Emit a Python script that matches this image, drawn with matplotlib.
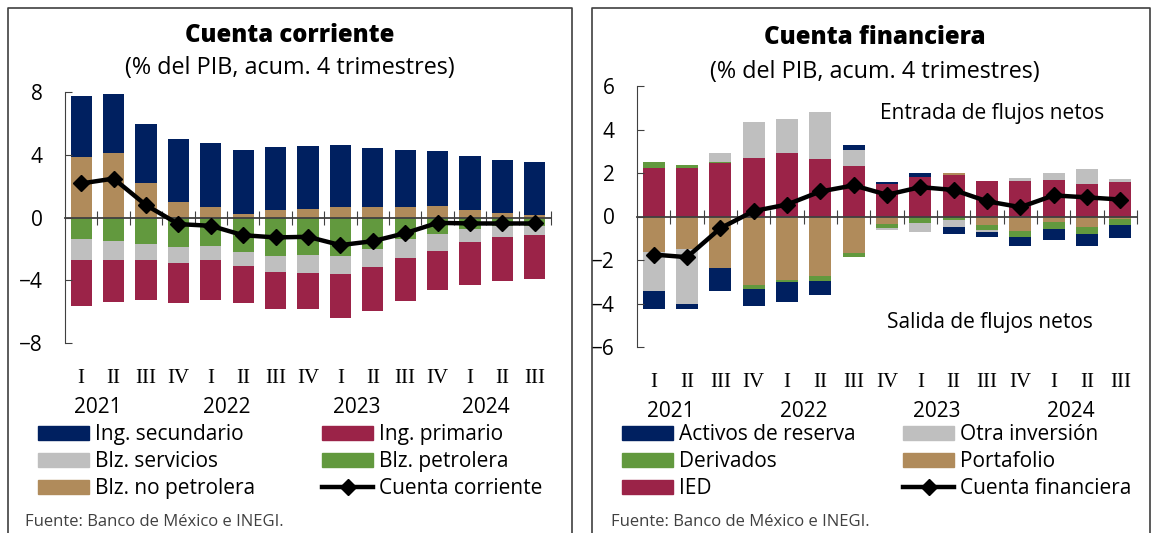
import numpy as np
import matplotlib
matplotlib.use("Agg")
from matplotlib import pyplot as plt
from matplotlib.patches import Patch
from matplotlib.lines import Line2D

plt.rcParams['font.family'] = ['Open Sans', 'DejaVu Sans']

# datos
trimestres = ['I', 'II', 'III', 'IV', 'I', 'II', 'III', 'IV', 'I', 'II', 'III', 'IV', 'I', 'II', 'III']
anios = ['2021', '2022', '2023', '2024']

# Cuenta corriente (% del PIB)
ing_secundario = [3.89, 3.78, 3.80, 4.03, 4.07, 4.08, 4.07, 4.01, 3.93, 3.80, 3.63, 3.51, 3.40, 3.37, 3.37]
ing_primario = [-2.89, -2.73, -2.55, -2.57, -2.57, -2.40, -2.34, -2.30, -2.82, -2.78, -2.71, -2.46, -2.75, -2.81, -2.83]
blz_servicios = [-1.38, -1.19, -1.00, -0.98, -0.92, -0.89, -1.02, -1.10, -1.09, -1.14, -1.20, -1.10, -0.86, -0.69, -0.61]
blz_petrolera = [-1.36, -1.49, -1.72, -1.89, -1.80, -2.17, -2.46, -2.42, -2.48, -2.02, -1.40, -1.05, -0.72, -0.53, -0.51]
blz_no_petrolera = [3.86, 4.08, 2.19, 1.00, 0.66, 0.23, 0.45, 0.53, 0.66, 0.64, 0.70, 0.72, 0.49, 0.28, 0.15]
cuenta_corriente = [2.17, 2.48, 0.79, -0.42, -0.53, -1.13, -1.27, -1.23, -1.76, -1.51, -1.00, -0.34, -0.38, -0.38, -0.38]

# Cuenta financiera (% del PIB)
ied = [2.22, 2.22, 2.45, 2.71, 2.91, 2.64, 2.34, 1.49, 1.82, 1.92, 1.65, 1.65, 1.68, 1.50, 1.60]
portafolio = [-1.61, -1.49, -2.39, -3.17, -2.91, -2.74, -1.66, -0.35, 0.00, 0.07, -0.39, -0.65, -0.27, -0.49, -0.10]
derivados = [0.28, 0.16, 0.05, -0.16, -0.09, -0.22, -0.19, -0.20, -0.31, -0.17, -0.23, -0.30, -0.31, -0.33, -0.27]
otra_inversion = [-1.81, -2.53, 0.41, 1.64, 1.58, 2.16, 0.73, -0.05, -0.38, -0.30, -0.08, 0.12, 0.32, 0.68, 0.13]
activos_reserva = [-0.84, -0.23, -1.03, -0.78, -0.92, -0.67, 0.23, 0.11, 0.18, -0.33, -0.26, -0.41, -0.49, -0.52, -0.63]
cuenta_financiera = [-1.75, -1.87, -0.54, 0.25, 0.55, 1.15, 1.43, 1.00, 1.35, 1.22, 0.70, 0.43, 0.97, 0.88, 0.78]

AZUL = '#002060'
GUINDA = '#9B2348'
GRIS = '#BFBFBF'
VERDE = '#62993E'
CAFE = '#B08B5B'
EJE = '#404040'

W, H = 1152, 533
fig = plt.figure(figsize=(W / 100, H / 100), dpi=100)


def px_box(x0, y_top, x1, y_bot):
    return [x0 / W, 1 - y_bot / H, (x1 - x0) / W, (y_bot - y_top) / H]


def apilar(ax, series, colores, ancho):
    x = np.arange(len(series[0]))
    pos = np.zeros(len(x))
    neg = np.zeros(len(x))
    for vals, c in zip(series, colores):
        v = np.array(vals)
        base = np.where(v >= 0, pos, neg)
        ax.bar(x, v, bottom=base, width=ancho, color=c, edgecolor='none', zorder=1)
        pos = pos + np.where(v >= 0, v, 0)
        neg = neg + np.where(v < 0, v, 0)
    return x


def formato(ax, ylim, paso):
    ax.set_xlim(-0.5, 14.5)
    ax.set_ylim(ylim)
    for s in ['top', 'right']:
        ax.spines[s].set_visible(False)
    ax.spines['left'].set_bounds(ylim)
    ax.spines['left'].set_color(EJE)
    ax.spines['bottom'].set_position(('data', 0))
    ax.spines['bottom'].set_color(EJE)
    ax.spines['bottom'].set_linewidth(1.3)
    ax.spines['bottom'].set_zorder(2.5)
    ax.set_yticks(np.arange(ylim[0], ylim[1] + 1, paso))
    ax.tick_params(axis='y', direction='in', length=5, pad=16, labelsize=15, color=EJE)
    ax.set_xticks(np.arange(15) + 0.5)
    ax.tick_params(axis='x', direction='inout', length=10, labelbottom=False, color=EJE)
    sec = ax.secondary_xaxis(0)
    sec.set_xticks(np.arange(15), trimestres, family='Liberation Serif', fontsize=15)
    sec.tick_params(length=0, pad=18.5)
    sec.spines['bottom'].set_visible(False)
    sec2 = ax.secondary_xaxis(0)
    sec2.set_xticks(np.arange(0, 15, 4) + 0.5, anios, fontsize=15)
    sec2.tick_params(length=0, pad=39)
    sec2.spines['bottom'].set_visible(False)


def leyenda(handles, labels, x, y):
    leg = fig.legend(handles, labels, loc='upper left', bbox_to_anchor=(x / W, 1 - y / H),
                     frameon=False, fontsize=15, borderpad=0, borderaxespad=0,
                     handlelength=2.45, handleheight=0.68, handletextpad=0.3,
                     labelspacing=0.29)
    return leg


# Panel izquierdo
ax1 = fig.add_axes(px_box(65, 92, 551, 343))
x = apilar(ax1, [blz_no_petrolera, blz_petrolera, blz_servicios, ing_primario, ing_secundario],
           [CAFE, VERDE, GRIS, GUINDA, AZUL], 0.65)
ax1.plot(x, cuenta_corriente, color='black', lw=3.2, marker='D', ms=8, zorder=4)
formato(ax1, (-8, 8), 4)

# Panel derecho
ax2 = fig.add_axes(px_box(637, 86, 1137, 347))
x = apilar(ax2, [ied, portafolio, derivados, otra_inversion, activos_reserva],
           [GUINDA, CAFE, VERDE, GRIS, AZUL], 0.66)
ax2.plot(x, cuenta_financiera, color='black', lw=3.2, marker='D', ms=8, zorder=4)
formato(ax2, (-6, 6), 2)
ax2.text(0.71, 0.895, 'Entrada de flujos netos', transform=ax2.transAxes, ha='center', va='center', fontsize=15)
ax2.text(0.705, 0.095, 'Salida de flujos netos', transform=ax2.transAxes, ha='center', va='center', fontsize=15)

# Titulos
fig.text(290 / W, 1 - 35 / H, 'Cuenta corriente', ha='center', va='center', fontsize=17.2, weight='heavy')
fig.text(290 / W, 1 - 68 / H, '(% del PIB, acum. 4 trimestres)', ha='center', va='center', fontsize=16.8)
fig.text(875 / W, 1 - 38 / H, 'Cuenta financiera', ha='center', va='center', fontsize=17.3, weight='black')
fig.text(875 / W, 1 - 72 / H, '(% del PIB, acum. 4 trimestres)', ha='center', va='center', fontsize=16.8)

# Leyendas
linea_cc = Line2D([], [], color='black', lw=3.2, marker='D', ms=8)
leyenda([Patch(color=AZUL), Patch(color=GRIS), Patch(color=CAFE)],
        ['Ing. secundario', 'Blz. servicios', 'Blz. no petrolera'], 38, 424)
leyenda([Patch(color=GUINDA), Patch(color=VERDE), linea_cc],
        ['Ing. primario', 'Blz. petrolera', 'Cuenta corriente'], 322, 424)
leyenda([Patch(color=AZUL), Patch(color=VERDE), Patch(color=GUINDA)],
        ['Activos de reserva', 'Derivados', 'IED'], 622, 424)
linea_cf = Line2D([], [], color='black', lw=3.2, marker='D', ms=8)
leyenda([Patch(color=GRIS), Patch(color=CAFE), linea_cf],
        ['Otra inversión', 'Portafolio', 'Cuenta financiera'], 903, 424)

fig.text(25 / W, 1 - 522 / H, 'Fuente: Banco de México e INEGI.', ha='left', va='center', fontsize=12, color=EJE)
fig.text(611 / W, 1 - 522 / H, 'Fuente: Banco de México e INEGI.', ha='left', va='center', fontsize=12, color=EJE)

# marcos de los paneles
for x0, x1 in [(8, 572), (592, 1150)]:
    fig.add_artist(Line2D([x0 / W, x0 / W, x1 / W, x1 / W], [0, 1 - 8 / H, 1 - 8 / H, 0],
                          transform=fig.transFigure, color=EJE, lw=1.2))

fig.savefig('out.png', dpi=100)
